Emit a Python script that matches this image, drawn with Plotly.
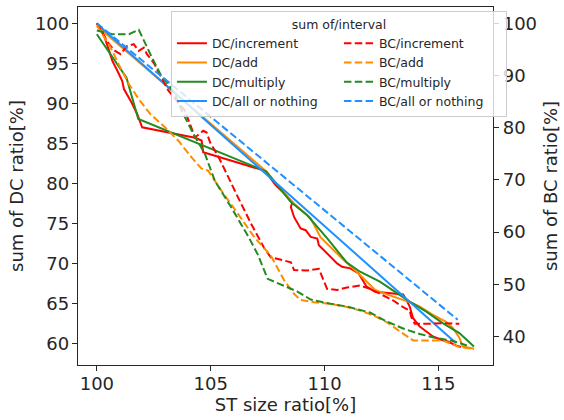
import plotly.graph_objects as go

# ---- data ----
dc_inc_x = [100.0, 100.32, 100.54, 100.68, 100.90, 101.11, 101.19, 101.48, 101.77, 101.99, 104.31, 104.60, 104.67,
            106.63, 107.43, 107.64, 107.86, 108.23, 108.59, 108.52, 108.66, 108.95, 109.17, 109.39, 109.68, 109.75,
            110.11, 110.55, 110.77, 111.13, 111.49, 111.85, 112.22, 112.87, 113.45, 113.60, 113.74, 113.89, 114.18,
            114.47, 114.76, 115.12, 115.41, 115.77, 115.99]
dc_inc_y = [100.0, 98.42, 96.55, 95.31, 94.07, 92.82, 91.79, 90.34, 88.68, 87.01, 85.70, 85.36, 83.91,
            82.25, 81.54, 80.60, 79.77, 78.73, 77.69, 77.07, 75.82, 74.38, 74.17, 73.33, 73.13, 72.30,
            71.27, 70.02, 69.60, 69.40, 68.78, 67.11, 66.49, 66.29, 66.14, 65.46, 64.63, 63.18, 62.14,
            61.52, 60.90, 60.49, 60.27, 59.78, 59.58]

dc_add_x = [100.0, 107.44, 108.52, 109.39, 109.82, 110.26, 110.84, 111.56, 112.22, 113.02, 113.89, 114.18, 114.76,
            115.34, 115.63, 115.92, 116.07, 116.57]
dc_add_y = [99.66, 81.50, 77.84, 75.66, 73.30, 72.05, 70.44, 68.57, 66.70, 65.87, 65.04, 64.63, 63.60,
            62.72, 61.98, 60.74, 59.65, 59.37]

dc_mul_x = [100.0, 101.30, 101.82, 107.44, 108.52, 109.24, 110.11, 110.98, 111.56, 112.43, 113.74, 114.47,
            115.19, 115.92, 116.56]
dc_mul_y = [98.63, 93.20, 88.06, 81.50, 77.69, 76.03, 73.17, 70.12, 68.98, 67.74, 65.25, 64.00,
            62.56, 61.32, 59.65]

dc_aon_x = [100.0, 115.77]
dc_aon_y = [99.95, 60.10]

bc_inc_x = [100.0, 100.27, 100.54, 100.80, 101.04, 101.33, 101.62, 101.84, 102.06, 102.20, 102.49, 103.15, 103.87,
            104.31, 104.67, 104.82, 104.98, 105.32, 105.76, 106.20, 106.78, 107.36, 107.64, 108.08, 108.52, 108.66,
            109.24, 109.75, 110.11, 110.55, 110.98, 111.56, 112.00, 112.58, 113.02, 113.45, 113.74, 113.81, 113.96,
            114.61, 115.19, 115.92]
bc_inc_y = [100.0, 97.95, 95.98, 94.70, 94.07, 95.66, 95.98, 94.70, 95.33, 94.07, 92.46, 87.05, 83.22,
            78.12, 79.40, 79.07, 77.10, 74.62, 70.47, 66.64, 61.55, 56.83, 55.16, 54.63, 54.21, 52.72,
            52.62, 52.94, 49.12, 48.89, 49.37, 49.75, 49.12, 47.84, 46.88, 45.60, 44.97, 43.69, 42.42,
            42.42, 42.54, 42.42]

bc_add_x = [100.0, 100.61, 100.97, 101.41, 101.84, 102.35, 103.00, 103.58, 104.16, 104.60, 104.89, 105.47, 106.20,
            106.92, 107.64, 108.23, 108.66, 108.95, 109.53, 110.26, 110.98, 111.56, 112.15, 112.73, 113.31, 113.89,
            114.47, 115.19, 115.92, 116.50]
bc_add_y = [99.6, 95.33, 92.02, 88.33, 85.46, 82.59, 80.03, 77.49, 74.29, 72.13, 71.75, 67.92, 63.47,
            58.99, 55.49, 50.71, 48.16, 46.98, 46.56, 46.25, 45.64, 44.97, 44.01, 42.73, 40.95, 39.23,
            39.23, 39.23, 37.95, 37.64]

bc_mul_x = [100.0, 100.68, 101.41, 101.84, 102.35, 102.79, 103.07, 103.44, 103.73, 104.24, 104.75, 105.18, 105.90,
            106.63, 107.07, 107.50, 108.81, 109.39, 110.26, 110.98, 111.99, 112.73, 113.45, 114.18, 114.90, 115.63,
            116.25]
bc_mul_y = [98.6, 97.90, 97.90, 98.76, 94.07, 90.24, 88.64, 86.42, 83.22, 78.77, 74.94, 69.83, 64.73,
            59.31, 55.68, 51.03, 48.60, 47.07, 46.25, 45.73, 44.58, 42.86, 41.52, 40.46, 39.70, 39.13,
            38.27]

bc_aon_x = [100.0, 115.85]
bc_aon_y = [100.0, 43.19]

x_ticks = [100, 105, 110, 115]
dc_ticks = [60, 65, 70, 75, 80, 85, 90, 95, 100]
bc_ticks = [40, 50, 60, 70, 80, 90, 100]

RED, ORANGE, GREEN, BLUE = "#ff0000", "#ff8c00", "#228b22", "#1e90ff"
INK = "#262626"
FONT = "DejaVu Sans"
DASH = "7.5px,3.3px"
LW = 2

dc_series = [("DC/increment", dc_inc_x, dc_inc_y, RED),
             ("DC/add", dc_add_x, dc_add_y, ORANGE),
             ("DC/multiply", dc_mul_x, dc_mul_y, GREEN),
             ("DC/all or nothing", dc_aon_x, dc_aon_y, BLUE)]
bc_series = [("BC/increment", bc_inc_x, bc_inc_y, RED),
             ("BC/add", bc_add_x, bc_add_y, ORANGE),
             ("BC/multiply", bc_mul_x, bc_mul_y, GREEN),
             ("BC/all or nothing", bc_aon_x, bc_aon_y, BLUE)]

fig = go.Figure()
for i, (name, xs, ys, c) in enumerate(dc_series):
    fig.add_trace(go.Scatter(x=xs, y=ys, name=name, mode="lines", yaxis="y",
                             line=dict(color=c, width=LW), legendrank=2 * i + 1))
for i, (name, xs, ys, c) in enumerate(bc_series):
    fig.add_trace(go.Scatter(x=xs, y=ys, name=name, mode="lines", yaxis="y2",
                             line=dict(color=c, width=LW, dash=DASH), legendrank=2 * i + 2))


def auto_range(arrays, margin=0.05):
    lo = min(min(a) for a in arrays)
    hi = max(max(a) for a in arrays)
    r = hi - lo
    return [lo - margin * r, hi + margin * r]


xr = auto_range([s[1] for s in dc_series + bc_series])
y1r = auto_range([s[2] for s in dc_series])
y2r = auto_range([s[2] for s in bc_series])

axis_common = dict(showline=True, linecolor=INK, linewidth=1.25, ticks="outside", ticklen=5,
                   tickwidth=1.25, tickcolor=INK, showgrid=False, zeroline=False,
                   tickfont=dict(family=FONT, size=18, color=INK))

fig.update_layout(
    width=564, height=420,
    margin=dict(l=78, r=67, t=6, b=55),
    paper_bgcolor="white", plot_bgcolor="white",
    font=dict(family=FONT, color=INK),
    xaxis=dict(range=xr, tickvals=x_ticks, mirror=True, ticklabelstandoff=-3,
               title=dict(text="ST size ratio[%]", font=dict(family=FONT, size=18, color=INK), standoff=4),
               **axis_common),
    yaxis=dict(range=y1r, tickvals=dc_ticks, ticklabelstandoff=-1,
               title=dict(text="sum of DC ratio[%]", font=dict(family=FONT, size=18, color=INK), standoff=6),
               **axis_common),
    yaxis2=dict(range=y2r, tickvals=bc_ticks, overlaying="y", side="right",
                title=dict(text="sum of BC ratio[%]", font=dict(family=FONT, size=18, color=INK), standoff=8),
                **axis_common),
    legend=dict(x=0.224, y=0.988, xanchor="left", yanchor="top", orientation="h",
                entrywidth=122, traceorder="normal",
                bgcolor="rgba(255,255,255,0.8)", bordercolor="#cccccc", borderwidth=1,
                font=dict(family=FONT, size=12.5, color=INK),
                title=dict(text="sum of/interval", side="top center",
                           font=dict(family=FONT, size=12.5, color=INK))),
    showlegend=True,
)

fig.write_html("out.html")
